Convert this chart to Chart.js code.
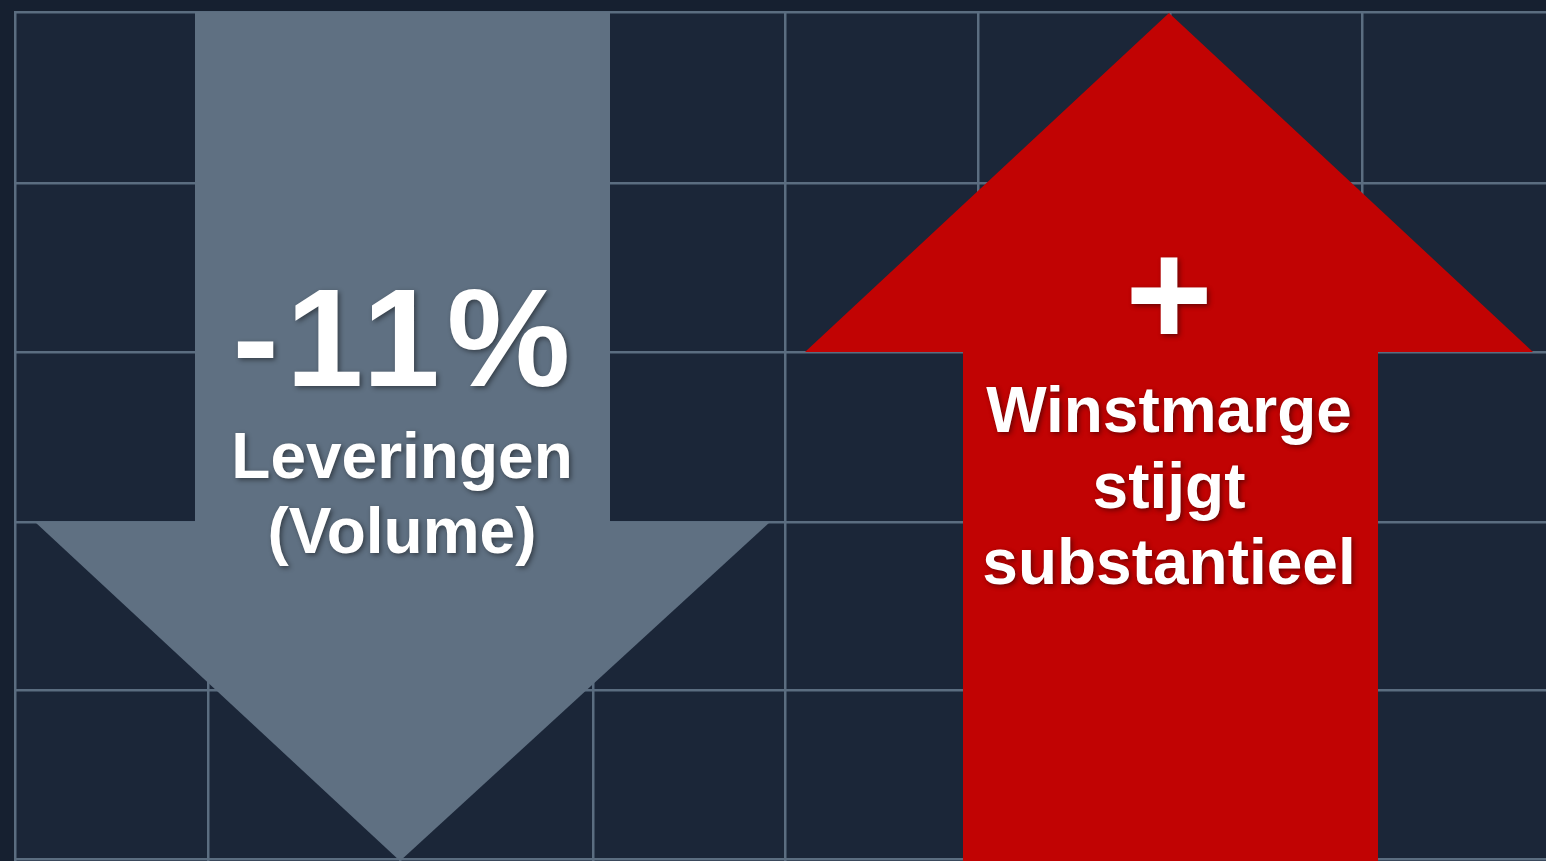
<!DOCTYPE html>
<html>
<head>
<meta charset="utf-8">
<script src="https://cdn.jsdelivr.net/npm/chart.js@4/dist/chart.umd.min.js"></script>
<style>
  html, body { margin: 0; padding: 0; background: #172131; }
  canvas { display: block; }
</style>
</head>
<body>
<canvas id="arrows-chart" width="1546" height="861"></canvas>
<script>
// grid lines (chart units)
const gridX = [15, 208, 400, 593, 785, 978, 1170, 1362];
const gridY = [12, 183, 352, 522, 690, 859];

// down arrow (deliveries)
const downShaft = [{ x: 195, y: 12 }, { x: 610, y: 12 }];
const downHead = [{ x: 35, y: 522 }, { x: 400, y: 861 }, { x: 770, y: 522 }];
const downBase = 522;

// up arrow (profit margin)
const upHead = [{ x: 805, y: 352 }, { x: 1169, y: 13 }, { x: 1533, y: 352 }];
const upShaft = [{ x: 963, y: 352 }, { x: 1378, y: 352 }];
const upBase = 352;

const downLabels = ['-11%', 'Leveringen', '(Volume)'];
const upLabels = ['+', 'Winstmarge', 'stijgt', 'substantieel'];

const grey = '#5f7082';
const red = '#c10303';

const background = {
    id: 'background',
    beforeDraw(chart) {
        const c = chart.ctx;
        const a = chart.chartArea;
        c.save();
        c.fillStyle = '#162030';
        c.fillRect(0, 0, chart.width, chart.height);
        c.fillStyle = '#1b2638';
        c.fillRect(a.left, a.top, a.right - a.left, a.bottom - a.top);
        c.restore();
    },
};

const labels = {
    id: 'labels',
    afterDatasetsDraw(chart) {
        const c = chart.ctx;
        const x = chart.scales.x;
        const y = chart.scales.y;
        c.save();
        c.fillStyle = '#ffffff';
        c.textAlign = 'center';
        c.textBaseline = 'alphabetic';
        c.shadowColor = 'rgba(0, 0, 0, 0.45)';
        c.shadowBlur = 5;
        c.shadowOffsetX = 2;
        c.shadowOffsetY = 2;

        const lx = x.getPixelForValue(402);
        c.font = 'bold 139px "Liberation Sans", Arial, sans-serif';
        c.letterSpacing = '7px';
        c.fillText(downLabels[0], lx + 3, y.getPixelForValue(386));
        c.letterSpacing = '0px';
        c.font = 'bold 64px "Liberation Sans", Arial, sans-serif';
        c.fillText(downLabels[1], lx, y.getPixelForValue(478));
        c.fillText(downLabels[2], lx, y.getPixelForValue(553));

        const rx = x.getPixelForValue(1169);
        c.font = 'bold 150px "Liberation Sans", Arial, sans-serif';
        c.fillText(upLabels[0], rx, y.getPixelForValue(346));
        c.font = 'bold 64px "Liberation Sans", Arial, sans-serif';
        c.fillText(upLabels[1], rx, y.getPixelForValue(432));
        c.fillText(upLabels[2], rx, y.getPixelForValue(508));
        c.fillText(upLabels[3], rx, y.getPixelForValue(584));
        c.restore();
    },
};

function shape(points, base, color) {
    return {
        data: points,
        showLine: true,
        fill: { value: base },
        backgroundColor: color,
        borderColor: color,
        borderWidth: 0,
        pointRadius: 0,
        tension: 0,
    };
}

const ctx = document.getElementById('arrows-chart').getContext('2d');
const arrowsChart = new Chart(ctx, {
    type: 'scatter',
    data: {
        datasets: [
            shape(downShaft, downBase, grey),
            shape(downHead, downBase, grey),
            shape(upHead, upBase, red),
            shape(upShaft, 861, red),
        ],
    },
    options: {
        responsive: false,
        animation: false,
        layout: { padding: { left: 14, top: 11, right: 0, bottom: 0 } },
        plugins: {
            legend: { display: false },
            tooltip: { enabled: false },
        },
        scales: {
            x: {
                type: 'linear',
                min: 14,
                max: 1546,
                afterBuildTicks: (axis) => { axis.ticks = gridX.map(v => ({ value: v })); },
                ticks: { display: false },
                border: { display: false },
                grid: { color: '#5b6d80', lineWidth: 2.5, drawTicks: false },
            },
            y: {
                type: 'linear',
                reverse: true,
                min: 11,
                max: 861,
                afterBuildTicks: (axis) => { axis.ticks = gridY.map(v => ({ value: v })); },
                ticks: { display: false },
                border: { display: false },
                grid: { color: '#5b6d80', lineWidth: 2.5, drawTicks: false },
            },
        },
    },
    plugins: [background, labels],
});
</script>
</body>
</html>
